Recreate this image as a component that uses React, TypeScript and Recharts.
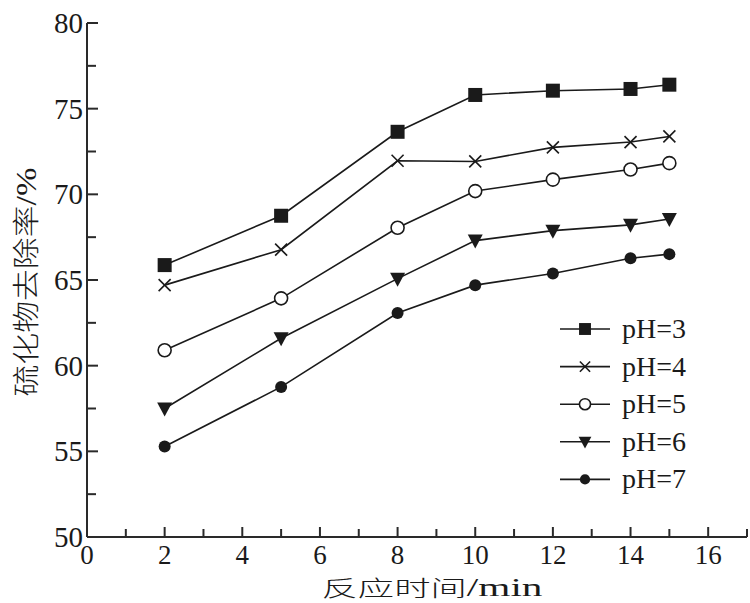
import React from 'react';
import { LineChart, Line, XAxis, YAxis } from 'recharts';

const times = [2, 5, 8, 10, 12, 14, 15];
const pH3 = [65.87, 68.75, 73.65, 75.8, 76.05, 76.15, 76.4];
const pH4 = [64.7, 66.77, 71.96, 71.92, 72.74, 73.05, 73.38];
const pH5 = [60.9, 63.93, 68.05, 70.19, 70.86, 71.45, 71.82];
const pH6 = [57.5, 61.6, 65.08, 67.3, 67.88, 68.22, 68.56];
const pH7 = [55.28, 58.76, 63.07, 64.7, 65.38, 66.27, 66.51];

const seriesNames = ['pH=3', 'pH=4', 'pH=5', 'pH=6', 'pH=7'];
const seriesKeys = ['pH3', 'pH4', 'pH5', 'pH6', 'pH7'];
const seriesShapes = ['square', 'cross', 'openCircle', 'triangle', 'circle'];
const seriesValues = [pH3, pH4, pH5, pH6, pH7];

const xTicks = [0, 1, 2, 3, 4, 5, 6, 7, 8, 9, 10, 11, 12, 13, 14, 15, 16, 17];
const yTicks = [50, 52.5, 55, 57.5, 60, 62.5, 65, 67.5, 70, 72.5, 75, 77.5, 80];

const xTitleCjk = '反应时间';
const xTitleLatin = '/min';
const yTitleCjk = '硫化物去除率';
const yTitleLatin = '/%';

const data = times.map((t, i) => {
  const row: any = { t };
  seriesKeys.forEach((k, j) => {
    row[k] = seriesValues[j][i];
  });
  return row;
});

const INK = '#1a1a1a';
const AXIS = '#2a2a2a';
const SERIF = '"Liberation Serif", "Times New Roman", serif';
const CJK = '"Noto Sans CJK SC", "Liberation Serif", serif';

function Marker({ shape, cx, cy, s = 1 }: { shape: string; cx: number; cy: number; s?: number }) {
  if (cx == null || cy == null) return null;
  switch (shape) {
    case 'square': {
      const h = 7 * s;
      return <rect x={cx - h} y={cy - h} width={2 * h} height={2 * h} fill={INK} />;
    }
    case 'cross': {
      const h = 6 * s;
      return (
        <g stroke={INK} strokeWidth={1.6}>
          <line x1={cx - h} y1={cy - h} x2={cx + h} y2={cy + h} />
          <line x1={cx - h} y1={cy + h} x2={cx + h} y2={cy - h} />
        </g>
      );
    }
    case 'openCircle':
      return <circle cx={cx} cy={cy} r={6.5 * s} fill="#fff" stroke={INK} strokeWidth={1.6} />;
    case 'triangle': {
      const w = 7.5 * s;
      return (
        <polygon
          points={`${cx - w},${cy - 6 * s} ${cx + w},${cy - 6 * s} ${cx},${cy + 8 * s}`}
          fill={INK}
        />
      );
    }
    case 'circle':
    default:
      return <circle cx={cx} cy={cy} r={6 * s} fill={INK} />;
  }
}

const XTick = (props: any) => {
  const { x, y, payload } = props;
  const v = payload.value;
  const major = v % 2 === 0;
  return (
    <g>
      <line x1={x} y1={y} x2={x} y2={y - (major ? 10 : 8)} stroke={AXIS} strokeWidth={2} />
      {major && (
        <text x={x} y={y + 27} textAnchor="middle" fontFamily={SERIF} fontSize={27} fill={INK}>
          {v}
        </text>
      )}
    </g>
  );
};

const YTick = (props: any) => {
  const { x, y, payload } = props;
  const v = payload.value;
  const major = v % 5 === 0;
  return (
    <g>
      <line x1={x} y1={y} x2={x + (major ? 11 : 9)} y2={y} stroke={AXIS} strokeWidth={2} />
      {major && (
        <text x={x - 4} y={y + 10} textAnchor="end" fontFamily={SERIF} fontSize={29} fill={INK}>
          {v}
        </text>
      )}
    </g>
  );
};

const ChartLegend = ({ x, y }: { x: number; y: number }) => (
  <g transform={`translate(${x},${y})`}>
    {seriesNames.map((name, i) => {
      const cy = i * 37.6;
      return (
        <g key={name}>
          <line x1={5} y1={cy} x2={55} y2={cy} stroke={INK} strokeWidth={1.6} />
          <Marker shape={seriesShapes[i]} cx={30} cy={cy} s={0.85} />
          <text x={67} y={cy + 9} fontFamily={SERIF} fontSize={28} fill={INK}>
            {name}
          </text>
        </g>
      );
    })}
  </g>
);

export default function App() {
  return (
    <div style={{ position: 'absolute', left: 0, top: 0, width: 750, height: 603, background: '#fff' }}>
      <LineChart
        width={750}
        height={603}
        data={data}
        margin={{ top: 23, right: 3, bottom: 0, left: 0 }}
      >
        <XAxis
          dataKey="t"
          type="number"
          domain={[0, 17]}
          ticks={xTicks}
          interval={0}
          height={66}
          tickSize={0}
          tickMargin={0}
          tickLine={false}
          tick={<XTick />}
          axisLine={{ stroke: AXIS, strokeWidth: 2 }}
        />
        <YAxis
          type="number"
          domain={[50, 80]}
          ticks={yTicks}
          interval={0}
          width={87}
          tickSize={0}
          tickMargin={0}
          tickLine={false}
          tick={<YTick />}
          axisLine={{ stroke: AXIS, strokeWidth: 2 }}
        />
        {seriesKeys.map((k, i) => (
          <Line
            key={k}
            dataKey={k}
            name={seriesNames[i]}
            type="linear"
            stroke={INK}
            strokeWidth={1.6}
            isAnimationActive={false}
            dot={(p: any) => <Marker key={`${k}-${p.index}`} shape={seriesShapes[i]} cx={p.cx} cy={p.cy} />}
            activeDot={false}
          />
        ))}
        <ChartLegend x={555} y={329} />
        <text
          x={432}
          y={596}
          textAnchor="middle"
          fontSize={22}
          fill={INK}
          textLength={221}
          lengthAdjust="spacingAndGlyphs"
        >
          <tspan fontFamily={CJK} fontWeight={300}>{xTitleCjk}</tspan>
          <tspan fontFamily={SERIF} fontSize={25}>{xTitleLatin}</tspan>
        </text>
        <text
          x={0}
          y={0}
          transform="translate(36,282) rotate(-90)"
          textAnchor="middle"
          fontSize={27}
          fill={INK}
          textLength={229}
          lengthAdjust="spacingAndGlyphs"
        >
          <tspan fontFamily={CJK} fontWeight={300}>{yTitleCjk}</tspan>
          <tspan fontFamily={SERIF} fontSize={29}>{yTitleLatin}</tspan>
        </text>
      </LineChart>
    </div>
  );
}
